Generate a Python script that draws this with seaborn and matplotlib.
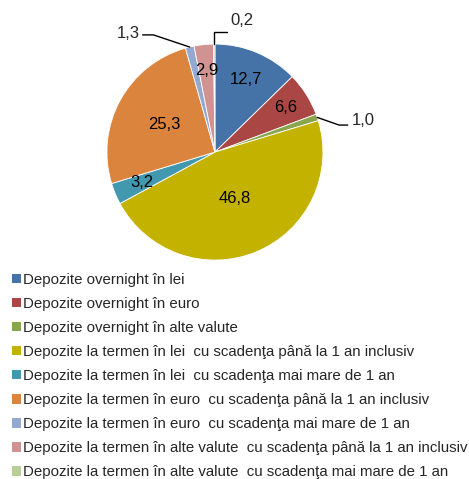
import numpy as np
import matplotlib
matplotlib.use("Agg")
import matplotlib.pyplot as plt
import seaborn as sns

# data (% of total deposits)
categories = [
    "Depozite overnight în lei",
    "Depozite overnight în euro",
    "Depozite overnight în alte valute",
    "Depozite la termen în lei  cu scadenţa până la 1 an inclusiv",
    "Depozite la termen în lei  cu scadenţa mai mare de 1 an",
    "Depozite la termen în euro  cu scadenţa până la 1 an inclusiv",
    "Depozite la termen în euro  cu scadenţa mai mare de 1 an",
    "Depozite la termen în alte valute  cu scadenţa până la 1 an inclusiv",
    "Depozite la termen în alte valute  cu scadenţa mai mare de 1 an",
]
values = [12.7, 6.6, 1.0, 46.8, 3.2, 25.3, 1.3, 2.9, 0.2]

colors = ["#4572A7", "#AA4643", "#89A54E", "#C4B200", "#4198AF",
          "#DB843D", "#93A9CF", "#D19392", "#B9CD96"]

sns.set_theme(style="white")
plt.rcParams["font.family"] = ["Liberation Sans", "DejaVu Sans"]

fig = plt.figure(figsize=(4.69, 4.79), dpi=100)
ax = fig.add_axes([0.228, 0.457, 0.4606, 0.451])

wedges, _ = ax.pie(values, colors=colors, startangle=90, counterclock=False,
                   wedgeprops=dict(edgecolor="white", linewidth=0.6))
ax.set_xlim(-1, 1)
ax.set_ylim(-1, 1)
ax.set_aspect("equal")
ax.axis("off")

def fmt(v):
    return f"{v:.1f}".replace(".", ",")

# inside labels: radial distance per slice (None = outside with leader)
inside_r = [0.73, 0.77, None, 0.47, 0.73, 0.53, None, 0.76, None]
for w, v, r in zip(wedges, values, inside_r):
    if r is None:
        continue
    a = np.deg2rad((w.theta1 + w.theta2) / 2)
    ax.text(r * np.cos(a), r * np.sin(a), fmt(v), ha="center", va="center",
            fontsize=12, color="black")

# outside labels with leader lines
def mid(w):
    return np.deg2rad((w.theta1 + w.theta2) / 2)

# 1,0
w = wedges[2]
a = mid(w)
x0, y0 = np.cos(a), np.sin(a)
ax.plot([x0, 1.15, 1.23], [y0, 0.25, 0.25], color="black", lw=1, clip_on=False)
ax.text(1.27, 0.29, fmt(values[2]), ha="left", va="center", fontsize=12)

# 1,3
w = wedges[6]
a = mid(w)
x0, y0 = np.cos(a), np.sin(a)
ax.plot([x0, -0.57, -0.67], [y0, 1.085, 1.085], color="black", lw=1, clip_on=False)
ax.text(-0.70, 1.10, fmt(values[6]), ha="right", va="center", fontsize=12)

# 0,2
w = wedges[8]
a = mid(w)
x0, y0 = np.cos(a), np.sin(a)
ax.plot([x0, x0, 0.11], [y0, 1.11, 1.11], color="black", lw=1, clip_on=False)
ax.text(0.14, 1.22, fmt(values[8]), ha="left", va="center", fontsize=12)

leg = fig.legend(wedges, categories, loc="upper left",
                 bbox_to_anchor=(0.013, 0.443), frameon=False,
                 fontsize=10.8, handlelength=0.6, handleheight=0.6,
                 handletextpad=0.12, labelspacing=0.67, borderaxespad=0)
for h in leg.legend_handles:
    h.set_edgecolor("none")

fig.savefig("out.png", dpi=100)
